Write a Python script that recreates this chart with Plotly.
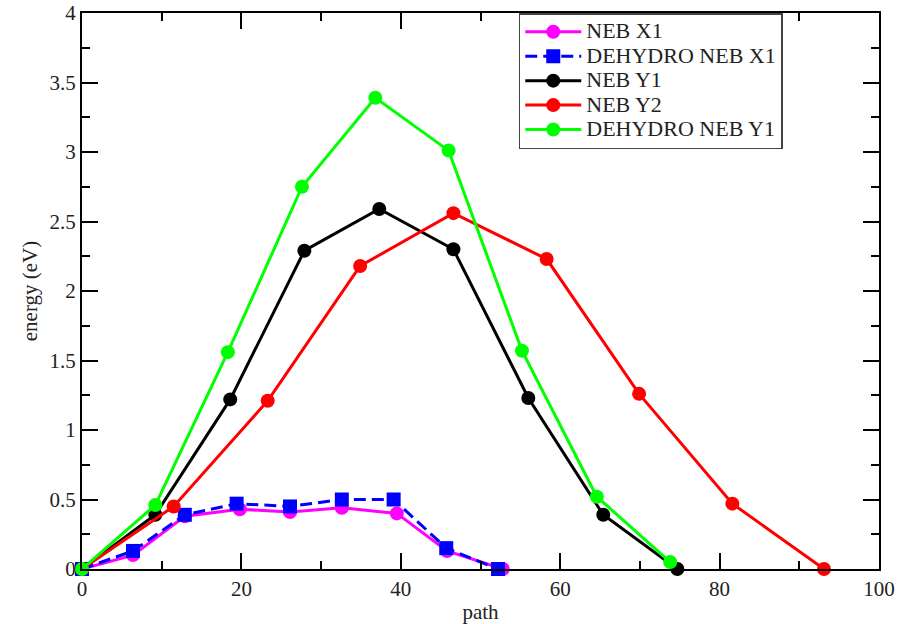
import plotly.graph_objects as go

# NEB X1 (magenta)
x_neb_x1 = [0, 6.4, 12.9, 19.8, 26.1, 32.6, 39.5, 45.8, 52.8]
y_neb_x1 = [0, 0.10, 0.38, 0.43, 0.41, 0.44, 0.40, 0.13, 0]
# DEHYDRO NEB X1 (blue)
x_deh_x1 = [0, 6.4, 12.9, 19.4, 26.1, 32.6, 39.1, 45.7, 52.2]
y_deh_x1 = [0, 0.13, 0.39, 0.47, 0.45, 0.50, 0.50, 0.15, 0]
# NEB Y1 (black)
x_neb_y1 = [0, 9.2, 18.6, 27.9, 37.3, 46.6, 56.0, 65.4, 74.7]
y_neb_y1 = [0, 0.39, 1.22, 2.29, 2.59, 2.30, 1.23, 0.39, 0]
# NEB Y2 (red)
x_neb_y2 = [0, 11.5, 23.3, 34.9, 46.6, 58.3, 69.9, 81.6, 93.1]
y_neb_y2 = [0, 0.45, 1.21, 2.18, 2.56, 2.23, 1.26, 0.47, 0]
# DEHYDRO NEB Y1 (green)
x_deh_y1 = [0, 9.2, 18.3, 27.6, 36.8, 46.0, 55.2, 64.6, 73.8]
y_deh_y1 = [0, 0.46, 1.56, 2.75, 3.39, 3.01, 1.57, 0.52, 0.05]

series = [
    ("NEB X1", x_neb_x1, y_neb_x1, "#ff00ff", "circle", "solid"),
    ("DEHYDRO NEB X1", x_deh_x1, y_deh_x1, "#0000ff", "square", "12px,6px"),
    ("NEB Y1", x_neb_y1, y_neb_y1, "#000000", "circle", "solid"),
    ("NEB Y2", x_neb_y2, y_neb_y2, "#ff0000", "circle", "solid"),
    ("DEHYDRO NEB Y1", x_deh_y1, y_deh_y1, "#00ff00", "circle", "solid"),
]

fig = go.Figure()
for name, xs, ys, col, sym, dash in series:
    fig.add_trace(go.Scatter(
        x=xs, y=ys, name='<span style="font-size:22px">' + name + '</span>',
        mode="lines+markers",
        line=dict(color=col, width=3, dash=dash),
        marker=dict(color=col, symbol=sym, size=14),
        cliponaxis=False,
    ))

font_family = "Liberation Serif"
axis_common = dict(
    showline=True, linecolor="#000", linewidth=2, mirror="ticks",
    ticks="inside", ticklen=16, tickwidth=1.5, tickcolor="#000",
    showgrid=False, zeroline=False, automargin=False,
    tickfont=dict(family=font_family, size=21, color="#222"),
)
fig.update_xaxes(
    range=[0, 100], dtick=20, tick0=0,
    minor=dict(ticks="inside", ticklen=8, dtick=10, tickcolor="#000", tickwidth=1.5),
    title=dict(text="path", font=dict(family=font_family, size=21, color="#222"), standoff=4),
    **axis_common,
)
fig.update_yaxes(
    range=[0, 4], dtick=0.5, tick0=0,
    minor=dict(ticks="inside", ticklen=8, dtick=0.25, tickcolor="#000", tickwidth=1.5),
    title=dict(text="energy (eV)", font=dict(family=font_family, size=21, color="#222"), standoff=6),
    **axis_common,
)
fig.update_layout(
    width=902, height=624,
    margin=dict(l=82, r=23, t=13, b=55),
    plot_bgcolor="white", paper_bgcolor="white",
    font=dict(family=font_family),
    legend=dict(
        x=0.548, y=1.0, xanchor="left", yanchor="top",
        bgcolor="white", bordercolor="#444", borderwidth=1.5,
        font=dict(family=font_family, size=16.5, color="#222"),
        tracegroupgap=0, itemwidth=56,
    ),
)
fig.write_html("out.html")
